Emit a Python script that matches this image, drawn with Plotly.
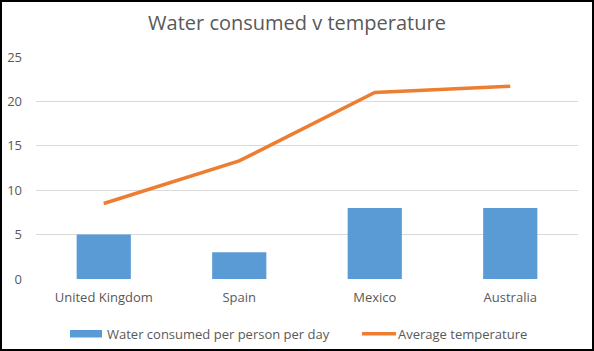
import plotly.graph_objects as go

categories = ["United Kingdom", "Spain", "Mexico", "Australia"]
water = [5, 3, 8, 8]
temperature = [8.5, 13.3, 21.0, 21.7]
y_ticks = [0, 5, 10, 15, 20, 25]
series_names = ["Water consumed per person per day", "Average temperature"]
bar_color = "#5B9BD5"
line_color = "#ED7D31"

# plot area in pixels
L, R, T, B = 36, 578, 57, 279
PW, PH = R - L, B - T
def px(x): return (x - L) / PW
def py(y): return (B - y) / PH

fig = go.Figure()
fig.add_trace(go.Bar(x=categories, y=water, name=series_names[0],
                     marker=dict(color=bar_color, line=dict(width=0)), width=0.4))
fig.add_trace(go.Scatter(x=categories, y=temperature, name=series_names[1], mode="lines",
                         line=dict(color=line_color, width=3.5)))

fig.update_layout(
    width=594, height=351,
    margin=dict(l=L, r=594 - R, t=T, b=351 - B),
    paper_bgcolor="white", plot_bgcolor="white",
    font=dict(family="Open Sans", color="#595959", size=13),
    title=dict(text="Water consumed v temperature", x=0.5, xanchor="center", y=0.935, yanchor="middle",
               font=dict(size=20, color="#595959", family="Open Sans")),
    showlegend=False,
)
fig.update_xaxes(showgrid=False, showline=False, ticks="", ticklabelstandoff=9, automargin=False,
                 tickfont=dict(size=13, color="#595959"))
fig.update_yaxes(range=[0, 25], tickvals=y_ticks, showgrid=True, gridcolor="#D9D9D9", gridwidth=1,
                 zeroline=False, showline=False, ticks="", ticklabelstandoff=13, automargin=False,
                 tickfont=dict(size=13, color="#595959"))

# custom legend (Excel-style)
fig.add_shape(type="rect", xref="paper", yref="paper", x0=px(70), x1=px(102), y0=py(337.5), y1=py(330),
              line=dict(width=0), fillcolor=bar_color)
fig.add_annotation(xref="paper", yref="paper", x=px(105), y=py(333.5), text=series_names[0],
                   showarrow=False, xanchor="left", yanchor="middle", font=dict(size=13, color="#595959"))
fig.add_shape(type="line", xref="paper", yref="paper", x0=px(362), x1=px(396), y0=py(333.7), y1=py(333.7),
              line=dict(color=line_color, width=3.5))
fig.add_annotation(xref="paper", yref="paper", x=px(396), y=py(333.5), text=series_names[1],
                   showarrow=False, xanchor="left", yanchor="middle", font=dict(size=13, color="#595959"))

# outer border
fig.add_shape(type="rect", xref="paper", yref="paper", x0=px(1), x1=px(593), y0=py(350), y1=py(1),
              line=dict(color="black", width=2), fillcolor="rgba(0,0,0,0)", layer="above")
fig.write_html("out.html")
